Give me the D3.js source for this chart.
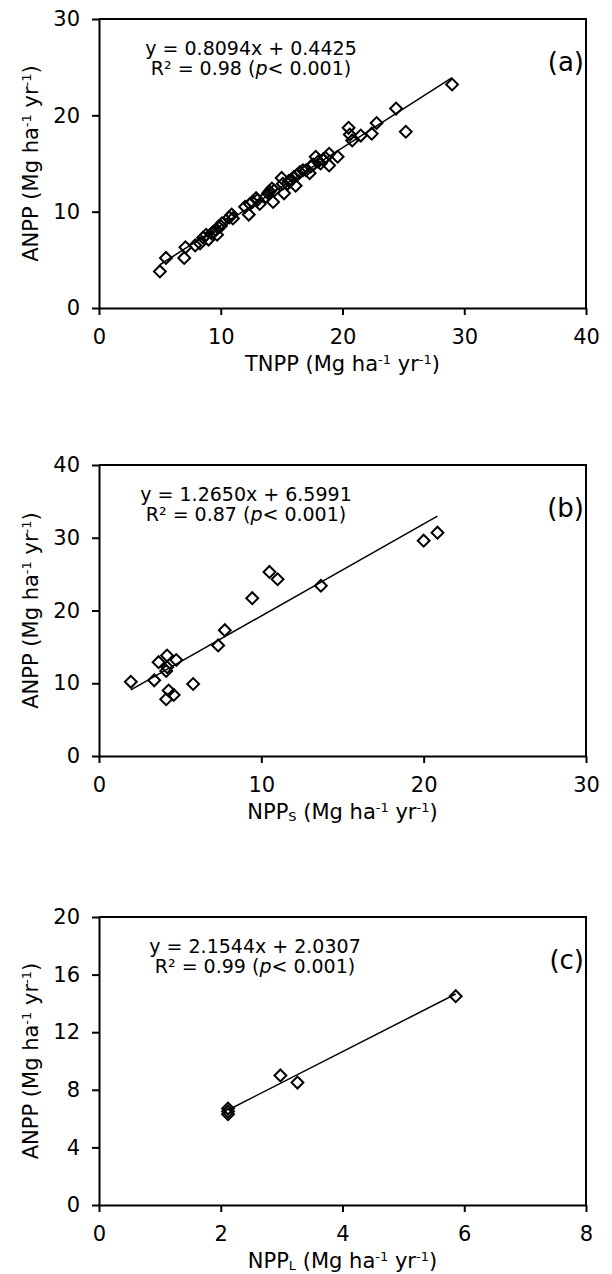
<!DOCTYPE html>
<html>
<head>
<meta charset="utf-8">
<script src="https://cdn.jsdelivr.net/npm/d3@7"></script>
<style>
  body { margin: 0; background: #fff; }
  text { font-family: "DejaVu Sans", Verdana, sans-serif; fill: #000; }
</style>
</head>
<body>
<div id="chart"></div>
<script>
// panel (a): TNPP vs ANPP
const tnppA = [5.0, 5.5, 7.0, 7.1, 7.9, 8.3, 8.55, 8.8, 9.0, 9.25, 9.4, 9.6, 9.7, 9.8, 10.0, 10.1,
  10.7, 11.0, 10.9, 12.0, 12.3, 12.4, 12.6, 12.9, 13.2, 13.0, 13.7, 13.9, 14.0, 14.3, 14.2, 14.4,
  15.0, 15.2, 15.1, 15.5, 15.6, 15.8, 16.0, 16.15, 16.25, 16.5, 16.75, 17.0, 17.3, 17.4, 17.6,
  17.8, 18.0, 18.2, 18.4, 18.6, 18.9, 18.9, 19.6, 20.5, 20.6, 20.8, 21.5, 22.4, 22.8, 24.4, 25.2, 29.0];
const anppA = [3.8, 5.2, 5.2, 6.3, 6.5, 6.7, 7.3, 7.6, 7.1, 7.75, 7.9, 8.1, 7.6, 8.4, 8.5, 8.8,
  9.4, 9.3, 9.7, 10.5, 9.7, 10.8, 11.0, 11.4, 10.8, 11.2, 11.55, 11.9, 12.1, 11.0, 12.4, 12.2,
  13.5, 11.9, 12.9, 12.9, 13.2, 13.3, 13.6, 12.7, 13.8, 14.1, 14.3, 14.3, 14.0, 14.7, 14.9,
  15.7, 15.2, 15.0, 15.4, 15.6, 14.8, 16.0, 15.7, 18.7, 18.0, 17.4, 17.9, 18.1, 19.2, 20.7, 18.3, 23.2];

// panel (b): NPPs vs ANPP
const nppS = [1.96, 3.4, 3.67, 4.19, 4.14, 4.2, 4.76, 4.29, 4.6, 4.14, 5.8, 7.34, 7.75, 9.44, 10.5, 11.0, 13.67, 20.0, 20.85];
const anppB = [10.2, 10.4, 12.9, 13.8, 11.7, 12.2, 13.2, 9.0, 8.4, 7.8, 9.9, 15.2, 17.3, 21.7, 25.3, 24.3, 23.4, 29.6, 30.7];

// panel (c): NPPL vs ANPP
const nppL = [2.12, 2.12, 2.12, 2.98, 3.26, 5.86];
const anppC = [6.7, 6.5, 6.3, 9.0, 8.5, 14.5];

const xTicksA = [0, 10, 20, 30, 40], yTicksA = [0, 10, 20, 30];
const xTicksB = [0, 10, 20, 30], yTicksB = [0, 10, 20, 30, 40];
const xTicksC = [0, 2, 4, 6, 8], yTicksC = [0, 4, 8, 12, 16, 20];

const width = 612, height = 1274;
const left = 99, right = 586;

const svg = d3.select("#chart").append("svg")
  .attr("width", width)
  .attr("height", height);

const panels = [
  { top: 19, bottom: 308, xs: tnppA, ys: anppA, xTicks: xTicksA, yTicks: yTicksA,
    slope: 0.8094, intercept: 0.4425, eq: "y = 0.8094x + 0.4425", r2: "0.98", eqX: 251, tag: "(a)",
    xTitle: [["TNPP (Mg ha"], ["-1", "sup"], [" yr"], ["-1", "sup"], [")"]] },
  { top: 465, bottom: 756, xs: nppS, ys: anppB, xTicks: xTicksB, yTicks: yTicksB,
    slope: 1.2650, intercept: 6.5991, eq: "y = 1.2650x + 6.5991", r2: "0.87", eqX: 246, tag: "(b)",
    xTitle: [["NPP"], ["S", "sub"], [" (Mg ha"], ["-1", "sup"], [" yr"], ["-1", "sup"], [")"]] },
  { top: 917, bottom: 1205, xs: nppL, ys: anppC, xTicks: xTicksC, yTicks: yTicksC,
    slope: 2.1544, intercept: 2.0307, eq: "y = 2.1544x + 2.0307", r2: "0.99", eqX: 255, tag: "(c)",
    xTitle: [["NPP"], ["L", "sub"], [" (Mg ha"], ["-1", "sup"], [" yr"], ["-1", "sup"], [")"]] }
];

const yTitle = [["ANPP (Mg ha"], ["-1", "sup"], [" yr"], ["-1", "sup"], [")"]];

// writes text parts with super/subscripts as tspans
function richText(sel, parts, size) {
  let shift = 0;
  parts.forEach(([t, kind]) => {
    const target = kind === "sup" ? -7 : kind === "sub" ? 2 : 0;
    sel.append("tspan")
      .attr("dy", target - shift)
      .style("font-size", kind ? (size * 0.62) + "px" : size + "px")
      .text(t);
    shift = target;
  });
}

const diamond = d3.symbol().type(d3.symbolSquare).size(70);

panels.forEach(p => {
  const data = p.xs.map((v, i) => ({ x: v, y: p.ys[i] }));

  const x = d3.scaleLinear()
    .domain(d3.extent(p.xTicks))
    .range([left, right]);

  const y = d3.scaleLinear()
    .domain(d3.extent(p.yTicks))
    .range([p.bottom, p.top]);

  const g = svg.append("g");

  // plot frame: top and right edges
  g.append("path")
    .attr("d", `M${left},${p.top}H${right}V${p.bottom}`)
    .attr("fill", "none")
    .attr("stroke", "#000")
    .attr("stroke-width", 2);

  const xAxis = g.append("g")
    .attr("transform", `translate(0,${p.bottom})`)
    .call(d3.axisBottom(x).tickValues(p.xTicks).tickSize(7).tickSizeOuter(0).tickPadding(14));

  const yAxis = g.append("g")
    .attr("transform", `translate(${left},0)`)
    .call(d3.axisLeft(y).tickValues(p.yTicks).tickSize(7).tickSizeOuter(0).tickPadding(12));

  [xAxis, yAxis].forEach(a => {
    a.select(".domain").attr("stroke-width", 2);
    a.selectAll(".tick line").attr("stroke-width", 2);
    a.selectAll("text")
      .style("font-family", "'DejaVu Sans', Verdana, sans-serif")
      .style("font-size", "21px")
      .attr("fill", "#000");
  });

  // regression line over the range of the data
  const [x0, x1] = d3.extent(p.xs);
  g.append("line")
    .attr("x1", x(x0))
    .attr("y1", y(p.slope * x0 + p.intercept))
    .attr("x2", x(x1))
    .attr("y2", y(p.slope * x1 + p.intercept))
    .attr("stroke", "#000")
    .attr("stroke-width", 1.5);

  g.append("g")
    .selectAll("path")
    .data(data)
    .enter()
    .append("path")
    .attr("d", diamond)
    .attr("transform", d => `translate(${x(d.x)},${y(d.y)}) rotate(45)`)
    .attr("fill", "none")
    .attr("stroke", "#000")
    .attr("stroke-width", 2);

  // equation and R²
  g.append("text")
    .attr("x", p.eqX)
    .attr("y", p.top + 36)
    .attr("text-anchor", "middle")
    .style("font-size", "19px")
    .text(p.eq);

  const r2 = g.append("text")
    .attr("x", p.eqX)
    .attr("y", p.top + 56)
    .attr("text-anchor", "middle")
    .style("font-size", "19px");
  r2.append("tspan").text(`R² = ${p.r2} (`);
  r2.append("tspan").style("font-style", "italic").text("p");
  r2.append("tspan").text("< 0.001)");

  g.append("text")
    .attr("x", right - 2)
    .attr("y", p.top + 52)
    .attr("text-anchor", "end")
    .style("font-size", "26px")
    .text(p.tag);

  const xt = g.append("text")
    .attr("x", (left + right) / 2)
    .attr("y", p.bottom + 63)
    .attr("text-anchor", "middle");
  richText(xt, p.xTitle, 21);

  const yt = g.append("text")
    .attr("transform", `translate(38,${(p.top + p.bottom) / 2}) rotate(-90)`)
    .attr("text-anchor", "middle");
  richText(yt, yTitle, 21);
});
</script>
</body>
</html>
